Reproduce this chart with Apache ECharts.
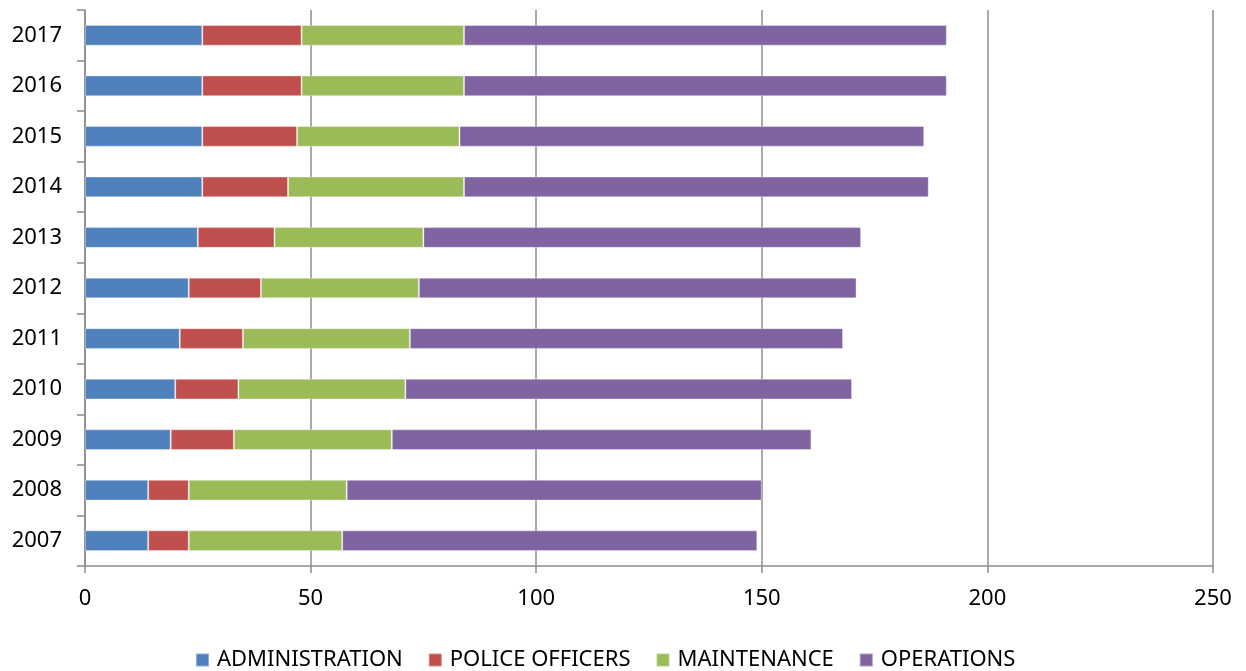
<!DOCTYPE html>
<html>
<head>
<meta charset="utf-8">
<script src="https://cdn.jsdelivr.net/npm/echarts@6/dist/echarts.min.js"></script>
<style>html,body{margin:0;padding:0;background:#fff;}#c{width:1246px;height:671px;}</style>
</head>
<body>
<div id="c"></div>
<script>
const years = ['2007','2008','2009','2010','2011','2012','2013','2014','2015','2016','2017'];
const administration = [14,14,19,20,21,23,25,26,26,26,26];
const policeOfficers = [9,9,14,14,14,16,17,19,21,22,22];
const maintenance = [34,35,35,37,37,35,33,39,36,36,36];
const operations = [92,92,93,99,96,97,97,103,103,107,107];
const xTicks = [0,50,100,150,200,250];

const font = '"Noto Sans", sans-serif';
const colors = ['#4F81BD','#C0504D','#9BBB59','#8064A2'];
const names = ['ADMINISTRATION','POLICE OFFICERS','MAINTENANCE','OPERATIONS'];
const datas = [administration, policeOfficers, maintenance, operations];

const chart = echarts.init(document.getElementById('c'));
chart.setOption({
  animation: false,
  color: colors,
  grid: {left: 85, right: 33, top: 10, bottom: 105, containLabel: false},
  legend: {
    bottom: -5, left: 190, itemWidth: 13, itemHeight: 13, itemGap: 25,
    icon: 'rect',
    textStyle: {fontFamily: font, fontSize: 22, color: '#000', padding: [0,0,0,3]},
    data: names
  },
  xAxis: {
    type: 'value', min: xTicks[0], max: xTicks[xTicks.length-1], interval: 50,
    axisLine: {show: true, lineStyle: {color: '#8c8c8c', width: 1.5}},
    axisTick: {show: true, length: 7, lineStyle: {color: '#8c8c8c', width: 1.5}},
    splitLine: {show: true, lineStyle: {color: '#8c8c8c', width: 1.5}},
    axisLabel: {fontFamily: font, fontSize: 22, color: '#000', margin: 22}
  },
  yAxis: {
    type: 'category', data: years,
    axisLine: {show: true, lineStyle: {color: '#8c8c8c', width: 1.5}},
    axisTick: {show: true, length: 8, lineStyle: {color: '#8c8c8c', width: 1.5}},
    axisLabel: {fontFamily: font, fontSize: 22, color: '#000', margin: 23}
  },
  series: names.map((n, i) => ({
    name: n, type: 'bar', stack: 'total', barWidth: '41%',
    itemStyle: {borderColor: 'rgba(255,255,255,0.35)', borderWidth: 1},
    data: datas[i]
  }))
});
</script>
</body>
</html>
